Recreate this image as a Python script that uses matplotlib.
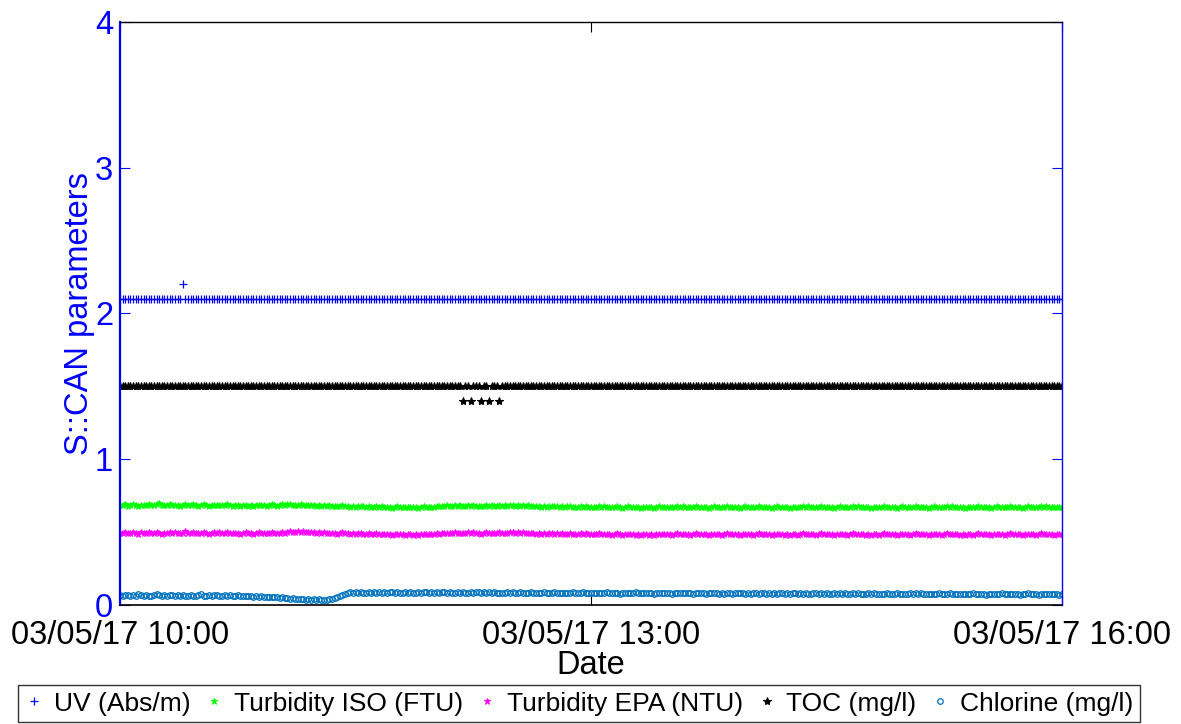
import numpy as np
import pandas as pd
import matplotlib
matplotlib.use("Agg")
import matplotlib.pyplot as plt

plt.rcParams['font.family'] = ['Liberation Sans', 'DejaVu Sans']

# one reading per minute, 10:00 -> 16:00
times = pd.date_range('2017-03-05 10:00', '2017-03-05 16:00', freq='1min')

# constant-ish series stored as (value, count) runs
uv_runs = [(2.1, 24), (2.2, 1), (2.1, 336)]
toc_runs = [(1.5, 131), (1.4, 1), (1.5, 2), (1.4, 1), (1.5, 3), (1.4, 1),
            (1.5, 2), (1.4, 1), (1.5, 3), (1.4, 1), (1.5, 215)]

# values in thousandths
turb_iso = [
    688, 684, 690, 682, 687, 692, 685, 680, 689, 686, 683, 691, 687, 684, 694, 699, 688, 683, 686, 690,
    684, 689, 685, 681, 688, 692, 686, 683, 690, 687, 682, 685, 691, 686, 680, 684, 689, 685, 688, 683,
    686, 690, 684, 681, 687, 683, 679, 685, 688, 682, 686, 680, 684, 689, 683, 687, 681, 685, 690, 684,
    682, 687, 691, 686, 690, 694, 688, 685, 689, 692, 687, 683, 688, 684, 686, 681, 685, 680, 684, 679,
    683, 678, 682, 676, 680, 684, 677, 681, 675, 679, 674, 678, 682, 676, 673, 677, 671, 675, 679, 673,
    676, 672, 670, 674, 668, 672, 676, 670, 673, 669, 671, 675, 669, 673, 668, 672, 676, 670, 674, 671,
    675, 679, 676, 681, 677, 683, 678, 682, 685, 679, 683, 677, 681, 686, 680, 684, 678, 682, 676, 680,
    684, 679, 683, 677, 681, 685, 679, 683, 680, 684, 688, 682, 686, 681, 685, 679, 683, 678, 682, 676,
    680, 675, 679, 673, 677, 681, 676, 680, 674, 678, 672, 676, 680, 674, 671, 675, 679, 673, 677, 671,
    675, 670, 674, 678, 672, 676, 671, 675, 669, 673, 677, 671, 668, 672, 676, 670, 674, 669, 673, 667,
    671, 675, 669, 673, 668, 672, 676, 670, 674, 671, 675, 669, 673, 678, 672, 676, 670, 674, 669, 673,
    677, 671, 675, 670, 674, 668, 672, 676, 671, 675, 669, 673, 677, 671, 675, 670, 674, 668, 672, 676,
    670, 674, 669, 673, 677, 671, 675, 670, 674, 668, 672, 676, 670, 674, 669, 673, 667, 671, 675, 669,
    673, 678, 672, 676, 670, 674, 669, 673, 677, 671, 675, 670, 674, 668, 672, 676, 671, 675, 669, 673,
    677, 672, 676, 670, 674, 669, 673, 667, 671, 675, 669, 673, 677, 671, 675, 670, 674, 668, 672, 676,
    670, 674, 669, 673, 677, 671, 675, 670, 674, 668, 672, 676, 671, 675, 669, 673, 677, 672, 676, 670,
    674, 669, 673, 667, 671, 675, 669, 673, 677, 671, 675, 670, 674, 668, 672, 676, 670, 674, 669, 673,
    677, 671, 675, 670, 674, 668, 672, 676, 671, 675, 669, 673, 677, 672, 676, 670, 674, 669, 673, 671,
    674,
]

turb_epa = [
    497, 493, 499, 491, 496, 501, 494, 490, 498, 495, 492, 500, 496, 493, 499, 494, 490, 497, 493, 498,
    494, 499, 495, 491, 497, 508, 496, 493, 500, 497, 492, 495, 501, 496, 490, 494, 499, 495, 498, 493,
    496, 500, 494, 491, 497, 493, 489, 495, 498, 492, 496, 490, 494, 499, 493, 497, 491, 495, 500, 494,
    492, 497, 501, 496, 500, 505, 499, 503, 507, 502, 506, 500, 504, 498, 502, 497, 501, 495, 499, 493,
    497, 492, 496, 490, 494, 498, 491, 495, 489, 493, 488, 492, 496, 490, 487, 491, 485, 489, 493, 487,
    490, 486, 484, 488, 482, 486, 490, 484, 487, 483, 485, 489, 483, 487, 482, 486, 490, 484, 488, 485,
    489, 493, 490, 495, 491, 497, 492, 496, 499, 493, 497, 491, 495, 500, 494, 498, 492, 496, 490, 494,
    498, 493, 497, 491, 495, 499, 493, 497, 494, 498, 502, 496, 500, 495, 499, 493, 497, 492, 496, 490,
    494, 489, 493, 487, 491, 495, 490, 494, 488, 492, 486, 490, 494, 488, 485, 489, 493, 487, 491, 485,
    489, 484, 488, 492, 486, 490, 485, 489, 483, 487, 491, 485, 482, 486, 490, 484, 488, 483, 487, 481,
    485, 489, 483, 487, 482, 486, 490, 484, 488, 485, 489, 483, 487, 492, 486, 490, 484, 488, 483, 487,
    491, 485, 489, 484, 488, 482, 486, 490, 485, 489, 483, 487, 491, 485, 489, 484, 488, 482, 486, 490,
    484, 488, 483, 487, 491, 485, 489, 484, 488, 482, 486, 490, 484, 488, 483, 487, 481, 485, 489, 483,
    487, 492, 486, 490, 484, 488, 483, 487, 491, 485, 489, 484, 488, 482, 486, 490, 485, 489, 483, 487,
    491, 486, 490, 484, 488, 483, 487, 481, 485, 489, 483, 487, 491, 485, 489, 484, 488, 482, 486, 490,
    484, 488, 483, 487, 491, 485, 489, 484, 488, 482, 486, 490, 485, 489, 483, 487, 491, 486, 490, 484,
    488, 483, 487, 481, 485, 489, 483, 487, 491, 485, 489, 484, 488, 482, 486, 490, 484, 488, 483, 487,
    491, 485, 489, 484, 488, 482, 486, 490, 485, 489, 483, 487, 491, 486, 490, 484, 488, 483, 487, 485,
    489,
]

chlorine = [
    68, 63, 71, 66, 60, 69, 64, 72, 67, 62, 70, 65, 61, 68, 73, 66, 63, 69, 64, 71,
    66, 61, 68, 63, 70, 65, 62, 69, 64, 60, 67, 72, 65, 61, 68, 63, 66, 70, 64, 61,
    67, 62, 69, 64, 60, 66, 63, 61, 64, 59, 62, 58, 61, 57, 60, 55, 58, 54, 57, 52,
    55, 50, 52, 47, 49, 44, 46, 41, 43, 39, 41, 37, 40, 36, 39, 35, 38, 34, 37, 36,
    39, 43, 49, 56, 64, 71, 77, 83, 86, 82, 87, 84, 89, 85, 82, 87, 84, 88, 83, 86,
    84, 87, 82, 86, 89, 83, 87, 84, 81, 86, 83, 88, 85, 82, 87, 84, 89, 86, 83, 87,
    84, 87, 82, 86, 89, 83, 87, 84, 81, 86, 83, 88, 85, 82, 87, 84, 89, 86, 83, 87,
    82, 86, 83, 88, 84, 81, 85, 82, 87, 83, 86, 80, 84, 87, 82, 85, 83, 88, 84, 81,
    85, 82, 86, 83, 80, 84, 87, 82, 85, 81, 84, 79, 83, 86, 81, 84, 82, 87, 83, 80,
    84, 81, 85, 82, 79, 83, 86, 81, 84, 80, 83, 78, 82, 85, 80, 83, 81, 86, 82, 79,
    83, 80, 84, 81, 78, 82, 85, 80, 83, 79, 82, 77, 81, 84, 79, 82, 80, 85, 81, 78,
    82, 79, 83, 80, 77, 81, 84, 79, 82, 78, 81, 76, 80, 83, 78, 81, 79, 84, 80, 77,
    81, 78, 82, 79, 76, 80, 83, 78, 81, 77, 80, 75, 79, 82, 77, 80, 78, 83, 79, 76,
    80, 77, 81, 78, 75, 79, 82, 77, 80, 76, 79, 74, 78, 81, 76, 79, 77, 82, 78, 75,
    79, 76, 80, 77, 74, 78, 81, 76, 79, 75, 78, 73, 77, 80, 75, 78, 76, 81, 77, 74,
    78, 75, 79, 76, 85, 77, 80, 75, 78, 74, 77, 72, 76, 79, 74, 77, 75, 80, 76, 73,
    77, 74, 78, 75, 72, 76, 79, 74, 77, 73, 76, 71, 75, 78, 73, 76, 74, 79, 75, 72,
    76, 73, 77, 74, 71, 75, 78, 81, 76, 72, 75, 70, 74, 77, 72, 75, 73, 78, 74, 71,
    75,
]

labels = ['UV (Abs/m)', 'Turbidity ISO (FTU)', 'Turbidity EPA (NTU)',
          'TOC (mg/l)', 'Chlorine (mg/l)']
tick_times = ['2017-03-05 10:00', '2017-03-05 13:00', '2017-03-05 16:00']
tick_labels = ['03/05/17 10:00', '03/05/17 13:00', '03/05/17 16:00']


def expand(runs):
    vals = []
    for v, n in runs:
        vals += [v] * n
    return np.array(vals)


uv = expand(uv_runs)
toc = expand(toc_runs)
iso = np.array(turb_iso) / 1000.0
epa = np.array(turb_epa) / 1000.0
cl = np.array(chlorine) / 1000.0

fig = plt.figure(figsize=(11.81, 7.24), dpi=100)
ax = fig.add_axes([0.1016, 0.1644, 0.7977, 0.8052])

ax.plot(times, uv, ls='none', marker='+', ms=6, mew=0.9, color=(0, 0, 1), label=labels[0])
ax.plot(times, iso, ls='none', marker='*', ms=5, mew=0.7, color=(0, 1, 0), label=labels[1])
ax.plot(times, epa, ls='none', marker='*', ms=5, mew=0.7, color=(1, 0, 1), label=labels[2])
ax.plot(times, toc, ls='none', marker='*', ms=6, mew=0.8, color='black', label=labels[3])
ax.plot(times, cl, ls='none', marker='o', ms=4, mew=0.9, mfc='none',
        color=(0, 0.447, 0.741), label=labels[4])

ax.set_xlim(times[0], times[-1])
ax.set_ylim(0, 4)
ax.set_yticks([0, 1, 2, 3, 4])
ax.set_xticks(pd.to_datetime(tick_times))
ax.set_xticklabels(tick_labels)

ax.tick_params(axis='both', direction='in', length=7, labelsize=23.5)
ax.tick_params(axis='x', top=True, colors='black', pad=11)
ax.tick_params(axis='y', right=True, colors='blue', pad=5)

ax.spines['left'].set_color('blue')
ax.spines['left'].set_linewidth(1.6)
ax.spines['right'].set_color('blue')
ax.spines['right'].set_linewidth(1.0)
ax.spines['top'].set_linewidth(1.0)
ax.spines['bottom'].set_linewidth(1.2)

ax.set_ylabel('S::CAN parameters', fontsize=23.5, color='blue', labelpad=0)
ax.set_xlabel('Date', fontsize=23.5, labelpad=-1)

leg = fig.legend(loc='upper center', bbox_to_anchor=(579 / 1181, 1 - 685 / 724),
                 ncol=5, fontsize=19, frameon=True, fancybox=False,
                 handlelength=0.7, handletextpad=0.4, columnspacing=0.55,
                 borderpad=0.25, borderaxespad=0)
leg.get_frame().set_edgecolor('black')
leg.get_frame().set_linewidth(1.0)

fig.savefig('out.png', dpi=100)
